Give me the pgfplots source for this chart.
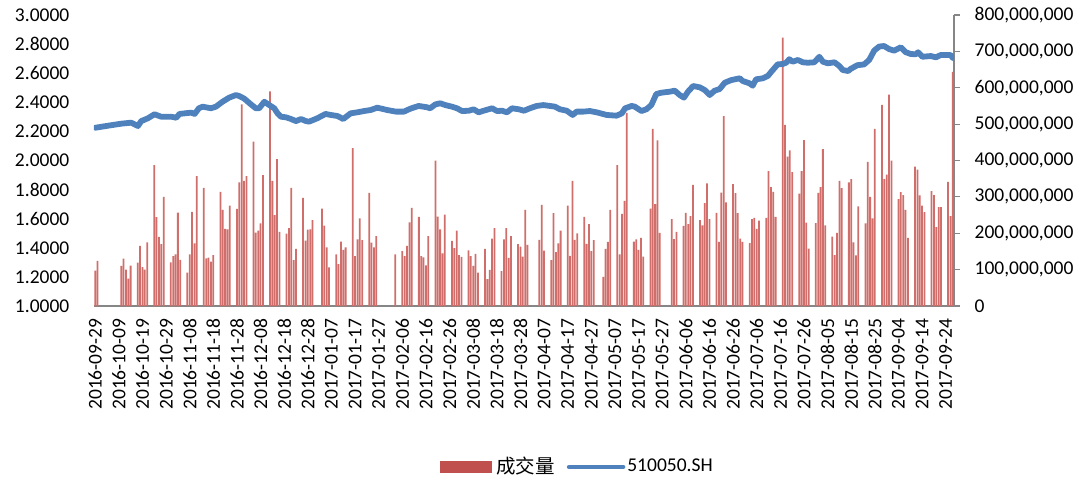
\documentclass[border=0pt]{standalone}
\usepackage{pgfplots}
\pgfplotsset{compat=1.18}
\usepackage{fontspec}
\setmainfont{Carlito}
\newfontfamily\cjk{Noto Sans CJK SC}
\definecolor{barred}{HTML}{C0504D}
\definecolor{barfill}{HTML}{CF6E6B}
\definecolor{lineblue}{HTML}{4F81BD}
\definecolor{axgray}{HTML}{868686}

\begin{document}
\fontsize{19.5}{23}\selectfont
\begin{tikzpicture}
\pgfplotsset{
  base/.style={
    at={(0,0)}, anchor=south west,
    width=860pt, height=291pt, scale only axis,
    xmin=-0.5, xmax=363.5,
    tick label style={font=\fontsize{19.5}{23}\selectfont},
    /pgf/number format/assume math mode=true,
  }
}
% ---------- volume bars (right axis) ----------
\begin{axis}[base,
  axis x line*=bottom, axis y line*=right,
  x axis line style={-, axgray, line width=1.5pt},
  y axis line style={-, axgray, line width=1.2pt},
  ymin=0, ymax=800,
  ytick={0,100,200,300,400,500,600,700,800},
  yticklabels={{0},{100,000,000},{200,000,000},{300,000,000},{400,000,000},{500,000,000},{600,000,000},{700,000,000},{800,000,000}},
  ytick style={axgray, line width=1.2pt},
  tick align=outside,
  ytick pos=right,
  major tick length=6pt,
  xtick={0,10,...,360},
  xticklabels={2016-09-29,2016-10-09,2016-10-19,2016-10-29,2016-11-08,2016-11-18,2016-11-28,2016-12-08,2016-12-18,2016-12-28,2017-01-07,2017-01-17,2017-01-27,2017-02-06,2017-02-16,2017-02-26,2017-03-08,2017-03-18,2017-03-28,2017-04-07,2017-04-17,2017-04-27,2017-05-07,2017-05-17,2017-05-27,2017-06-06,2017-06-16,2017-06-26,2017-07-06,2017-07-16,2017-07-26,2017-08-05,2017-08-15,2017-08-25,2017-09-04,2017-09-14,2017-09-24},
  xticklabel style={rotate=90, anchor=east, text=black},
  x tick style={draw=none},
  yticklabel style={anchor=west, xshift=8pt, text=black},
]
\addplot[ybar, bar width=0.75, fill=barfill, draw=none] coordinates {
(0,97) (1,124) (11,110) (12,130) (13,100) (14,75) (15,111)
(18,119) (19,165) (20,107) (21,100) (22,175)
(25,387) (26,244) (27,190) (28,170) (29,300)
(32,120) (33,137) (34,142) (35,257) (36,127)
(39,92) (40,142) (41,259) (42,172) (43,357)
(46,325) (47,131) (48,133) (49,122) (50,140)
(53,314) (54,264) (55,212) (56,211) (57,276)
(60,267) (61,340) (62,554) (63,344) (64,357)
(67,452) (68,202) (69,207) (70,227) (71,360)
(74,590) (75,344) (76,250) (77,404) (78,204)
(81,199) (82,214) (83,325) (84,126) (85,157)
(88,297) (89,180) (90,210) (91,211) (92,236)
(96,268) (97,221) (98,161) (99,106)
(102,142) (103,115) (104,177) (105,154) (106,161)
(109,434) (110,137) (111,183) (112,241) (113,181)
(116,311) (117,174) (118,161) (119,192)
(127,142)
(130,151) (131,137) (132,165) (133,230) (134,270)
(137,245) (138,137) (139,134) (140,112) (141,192)
(144,400) (145,246) (146,211) (147,145) (148,251)
(151,179) (152,159) (153,207) (154,140) (155,135)
(158,153) (159,137) (160,110) (161,143) (162,92)
(165,157) (166,74) (167,99) (168,185) (169,214)
(172,96) (173,183) (174,214) (175,132) (176,192)
(179,170) (180,163) (181,136) (182,264) (183,168)
(188,182) (189,278) (190,152)
(193,126) (194,255) (195,148) (196,172) (197,207)
(200,276) (201,138) (202,344) (203,182) (204,200)
(207,245) (208,171) (209,225) (210,151) (211,181)
(215,80) (216,157) (217,176) (218,264)
(221,387) (222,142) (223,253) (224,289) (225,531)
(228,177) (229,183) (230,154) (231,187) (232,136)
(235,268) (236,487) (237,280) (238,455) (239,201)
(244,239) (245,184) (246,204)
(249,220) (250,256) (251,225) (252,247) (253,333)
(256,236) (257,222) (258,283) (259,337) (260,239)
(263,256) (264,176) (265,312) (266,522) (267,285)
(270,335) (271,310) (272,255) (273,185) (274,176)
(277,173) (278,239) (279,242) (280,212) (281,235)
(284,242) (285,371) (286,327) (287,314) (288,245)
(291,738) (292,498) (293,411) (294,428) (295,368)
(298,309) (299,371) (300,456) (301,229) (302,158)
(305,228) (306,311) (307,327) (308,431) (309,222)
(312,191) (313,140) (314,201) (315,344) (316,324)
(319,340) (320,349) (321,175) (322,139) (323,274)
(326,227) (327,396) (328,300) (329,241) (330,487)
(333,553) (334,349) (335,361) (336,581) (337,400)
(340,294) (341,313) (342,305) (343,264) (344,187)
(347,383) (348,375) (349,304) (350,276) (351,258)
(354,316) (355,305) (356,217) (357,272) (358,272)
(361,341) (362,247) (363,644)
};
\end{axis}
% ---------- price line (left axis) ----------
\begin{axis}[base,
  axis x line=none, axis y line*=left,
  y axis line style={draw=none},
  ymin=1, ymax=3,
  ytick={1,1.2,1.4,1.6,1.8,2,2.2,2.4,2.6,2.8,3},
  ytick style={draw=none},
  yticklabel style={/pgf/number format/.cd, fixed, fixed zerofill, precision=4, /tikz/.cd, anchor=east, xshift=-18pt, text=black},
  legend style={at={(0.562,-0.553)}, anchor=center, draw=none, fill=none,
    legend columns=2, font=\fontsize{19.5}{23}\selectfont,
    /tikz/every even column/.append style={column sep=10pt}},
]
\addlegendimage{legend image code/.code={\fill[barred] (0pt,-5.5pt) rectangle (51pt,5.5pt);}}
\addlegendentry{\hspace{3pt}\cjk 成交量}
\addplot[lineblue, line width=5.8pt, line join=round, line cap=round,
  legend image code/.code={\draw[lineblue, line width=4.5pt, line cap=round] (0pt,0pt) -- (54pt,0pt);}]
coordinates {
(0,2.225) (5.4,2.239) (11,2.253) (15.2,2.260) (18.1,2.237) (19.5,2.271) (22.3,2.290) (25.1,2.318) (27.9,2.301) (32.2,2.301) (34.3,2.294) (35.7,2.320) (40.6,2.329) (42.1,2.320) (43.9,2.359) (45.5,2.370) (49,2.359) (51.1,2.370) (53.9,2.404) (56.7,2.432) (59.6,2.450) (61,2.443) (63.1,2.425) (65.9,2.386) (68,2.359) (69.4,2.359) (71.6,2.404) (73.7,2.381) (75.8,2.359) (77.2,2.324) (78.6,2.301) (80.7,2.297) (82.9,2.285) (85,2.271) (87.1,2.285) (89.2,2.271) (90.5,2.267) (94,2.290) (97.5,2.320) (99.7,2.313) (102.5,2.306) (105,2.285) (108.1,2.324) (110.9,2.331) (113.8,2.340) (116.6,2.347) (119.4,2.363) (123.6,2.347) (127.2,2.336) (130.7,2.336) (132.8,2.352) (134.1,2.360) (136.9,2.375) (140.4,2.366) (141.8,2.359) (144,2.386) (146.1,2.393) (148.2,2.381) (151,2.370) (153.1,2.359) (155.3,2.340) (158.1,2.342) (160.2,2.352) (162.3,2.331) (164.4,2.342) (168,2.359) (170.1,2.340) (172.2,2.342) (174.3,2.331) (176.4,2.359) (179.3,2.352) (181.5,2.342) (184,2.359) (186.9,2.375) (189.7,2.381) (192.5,2.375) (194.6,2.370) (196.7,2.352) (199.6,2.342) (202.1,2.313) (203.8,2.336) (206.6,2.336) (209.4,2.340) (212.3,2.331) (216.5,2.313) (220.7,2.308) (222.9,2.324) (224.3,2.359) (227.1,2.375) (228.4,2.370) (231.2,2.340) (233.3,2.352) (235.4,2.381) (237.5,2.457) (239.6,2.466) (243.2,2.473) (245.3,2.480) (247.4,2.450) (249.2,2.432) (250.9,2.473) (253.1,2.512) (255.9,2.503) (258,2.484) (260.1,2.450) (262.2,2.480) (264.3,2.491) (266.5,2.535) (269.3,2.553) (272.8,2.565) (274.1,2.546) (276.9,2.531) (278.3,2.514) (279.7,2.558) (282.6,2.565) (284.7,2.581) (286.8,2.622) (288.9,2.661) (291,2.663) (292.4,2.672) (293.8,2.696) (295.2,2.679) (297.4,2.691) (299.5,2.675) (301.6,2.672) (304.4,2.675) (306.5,2.713) (308,2.679) (310.1,2.668) (312.9,2.675) (315,2.649) (316.4,2.622) (318.7,2.615) (319.8,2.630) (322.6,2.655) (325.4,2.660) (327.6,2.691) (329.7,2.755) (331.8,2.783) (333.9,2.787) (336,2.766) (338.1,2.755) (341,2.778) (343.1,2.744) (345.2,2.732) (347.3,2.730) (348.3,2.744) (350.1,2.713) (353.7,2.718) (355.8,2.709) (357.9,2.725) (360.7,2.725) (362,2.725) (363,2.705)
};
\addlegendentry{510050.SH}
\end{axis}
\pgfresetboundingbox
\path (-94pt,-176pt) rectangle (994pt,306pt);
\end{tikzpicture}
\end{document}
